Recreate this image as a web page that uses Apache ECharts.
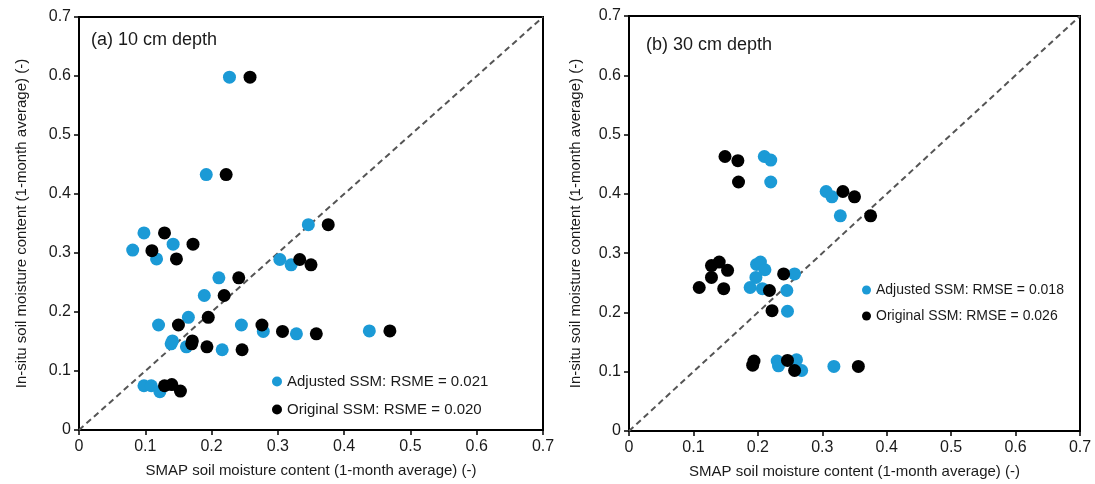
<!DOCTYPE html>
<html>
<head>
<meta charset="utf-8">
<script src="https://cdn.jsdelivr.net/npm/echarts@6/dist/echarts.min.js"></script>
<style>
html,body{margin:0;padding:0;background:#fff;}
#chart{width:1095px;height:484px;}
</style>
</head>
<body>
<div id="chart"></div>
<script>
// ---- Data (SMAP x, in-situ y) ----
const adjusted10 = [
  [0.227,0.598],[0.192,0.433],[0.346,0.348],[0.098,0.334],[0.081,0.305],[0.142,0.315],
  [0.117,0.290],[0.303,0.289],[0.320,0.280],[0.211,0.258],[0.189,0.228],[0.165,0.191],
  [0.120,0.178],[0.245,0.178],[0.278,0.167],[0.328,0.163],[0.438,0.168],[0.141,0.151],
  [0.139,0.146],[0.162,0.141],[0.216,0.136],[0.098,0.075],[0.109,0.075],[0.122,0.065]
];
const original10 = [
  [0.258,0.598],[0.222,0.433],[0.376,0.348],[0.129,0.334],[0.110,0.304],[0.172,0.315],
  [0.147,0.290],[0.333,0.289],[0.350,0.280],[0.241,0.258],[0.219,0.228],[0.195,0.191],
  [0.150,0.178],[0.276,0.178],[0.307,0.167],[0.358,0.163],[0.469,0.168],[0.171,0.151],
  [0.170,0.146],[0.193,0.141],[0.246,0.136],[0.129,0.075],[0.140,0.077],[0.153,0.066]
];
const adjusted30 = [
  [0.210,0.463],[0.220,0.457],[0.220,0.420],[0.306,0.404],[0.315,0.395],[0.328,0.363],
  [0.198,0.281],[0.204,0.285],[0.211,0.272],[0.197,0.259],[0.188,0.242],[0.207,0.240],
  [0.257,0.265],[0.245,0.237],[0.246,0.202],
  [0.230,0.118],[0.232,0.110],[0.260,0.120],[0.268,0.102],[0.318,0.109]
];
const original30 = [
  [0.149,0.463],[0.169,0.456],[0.170,0.420],[0.332,0.404],[0.350,0.395],[0.375,0.363],
  [0.128,0.279],[0.140,0.285],[0.153,0.271],[0.128,0.259],[0.109,0.242],[0.147,0.240],
  [0.240,0.265],[0.218,0.237],[0.222,0.203],
  [0.194,0.118],[0.192,0.111],[0.246,0.119],[0.257,0.102],[0.356,0.109]
];
const oneToOne = [[0,0],[0.7,0.7]];
const panelLabels = ['(a) 10 cm depth','(b) 30 cm depth'];
const legendA = ['Adjusted SSM: RSME = 0.021','Original SSM: RSME = 0.020'];
const legendB = ['Adjusted SSM: RMSE = 0.018','Original SSM: RMSE = 0.026'];
const xTitle = 'SMAP soil moisture content (1-month average) (-)';
const yTitle = 'In-situ soil moisture content (1-month average) (-)';

const FONT = "'Liberation Sans', Arial, sans-serif";
const BLUE = '#1b9ad6';
const TXT = '#1a1a1a';
const fmt = v => (Math.abs(v) < 1e-9 ? '0' : v.toFixed(1));

function xAxis(gi){
  return {
    type:'value', gridIndex:gi, min:0, max:0.7, interval:0.1,
    name:xTitle, nameLocation:'middle', nameGap:33,
    nameTextStyle:{fontFamily:FONT,fontSize:15,color:TXT},
    axisLine:{show:true,lineStyle:{color:'#000',width:2}},
    axisTick:{show:true,length:5,lineStyle:{color:'#000',width:1.5}},
    axisLabel:{formatter:fmt,fontFamily:FONT,fontSize:16,color:TXT,margin:9},
    splitLine:{show:false}
  };
}
function yAxis(gi, gap){
  return {
    type:'value', gridIndex:gi, min:0, max:0.7, interval:0.1,
    name:yTitle, nameLocation:'middle', nameGap:gap, nameRotate:90,
    nameTextStyle:{fontFamily:FONT,fontSize:15,color:TXT},
    axisLine:{show:true,lineStyle:{color:'#000',width:2}},
    axisTick:{show:true,length:5,lineStyle:{color:'#000',width:1.5}},
    axisLabel:{formatter:fmt,fontFamily:FONT,fontSize:16,color:TXT,margin:8},
    splitLine:{show:false}
  };
}
function scatter(name, data, color, gi){
  return {type:'scatter', name:name, data:data, xAxisIndex:gi, yAxisIndex:gi,
    symbol:'circle', symbolSize:13, itemStyle:{color:color, opacity:1}, z:3};
}
function diag(gi){
  return {type:'line', data:oneToOne, xAxisIndex:gi, yAxisIndex:gi, symbol:'none',
    lineStyle:{color:'#555',width:2,type:[6,4]}, silent:true, z:2};
}

const chart = echarts.init(document.getElementById('chart'), null, {renderer:'canvas'});
chart.setOption({
  animation:false,
  backgroundColor:'#fff',
  grid:[
    {left:79, top:17, width:464, height:413, show:true, borderColor:'#000', borderWidth:2},
    {left:629, top:16, width:451, height:418, show:true, borderColor:'#000', borderWidth:2}
  ],
  title:[
    {text:panelLabels[0], left:86, top:26, textStyle:{fontFamily:FONT,fontSize:18,fontWeight:'normal',color:TXT}},
    {text:panelLabels[1], left:641, top:31, textStyle:{fontFamily:FONT,fontSize:18,fontWeight:'normal',color:TXT}}
  ],
  legend:[
    {data:legendA, orient:'vertical', left:267, top:369, itemGap:13, itemWidth:10, itemHeight:10,
     icon:'circle', textStyle:{fontFamily:FONT,fontSize:15,color:TXT}, itemStyle:{borderWidth:0, opacity:1}},
    {data:legendB, orient:'vertical', left:857, top:278, itemGap:12, itemWidth:9, itemHeight:9,
     icon:'circle', textStyle:{fontFamily:FONT,fontSize:14,color:TXT}, itemStyle:{borderWidth:0, opacity:1}}
  ],
  xAxis:[xAxis(0), xAxis(1)],
  yAxis:[yAxis(0,50), yAxis(1,46)],
  series:[
    diag(0), diag(1),
    scatter(legendA[0], adjusted10, BLUE, 0),
    scatter(legendA[1], original10, '#000', 0),
    scatter(legendB[0], adjusted30, BLUE, 1),
    scatter(legendB[1], original30, '#000', 1)
  ]
});
</script>
</body>
</html>
